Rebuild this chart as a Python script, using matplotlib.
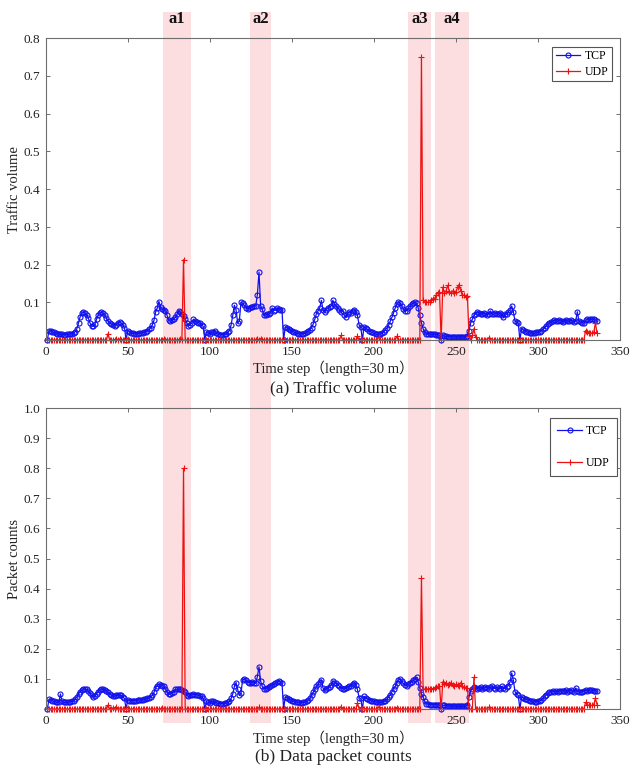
import numpy as np
import matplotlib
matplotlib.use("Agg")
import matplotlib.pyplot as plt
from matplotlib.patches import Rectangle
from matplotlib.transforms import blended_transform_factory

plt.rcParams['font.family'] = ['Liberation Serif', 'Noto Sans CJK SC']

# one week of 30 min time steps (1..336)
steps = np.arange(1, 337)

# (a) TCP traffic volume, one row per day
tcp_volume = [
    0, .025, .024, .022, .02, .018, .017, .016, .015, .015, .014, .014, .015, .015, .016, .016,
    .018, .022, .03, .045, .062, .072, .073, .071, .066, .058, .045, .037, .036, .042, .055, .067,
    .072, .073, .071, .066, .058, .05, .045, .042, .04, .038, .041, .045, .047, .045, .04, .033,
    0, .025, .022, .019, .018, .017, .017, .017, .018, .018, .019, .02, .022, .025, .028, .032,
    .04, .052, .075, .085, .102, .088, .082, .08, .078, .065, .052, .05, .052, .055, .06, .068,
    .077, .075, .07, .063, .055, .045, .038, .04, .045, .055, .05, .048, .046, .045, .04, .036,
    0, .022, .018, .016, .02, .022, .025, .018, .015, .014, .014, .014, .015, .016, .02, .025,
    .04, .065, .092, .08, .045, .05, .1, .098, .092, .086, .082, .085, .087, .088, .09, .09,
    .12, .18, .09, .082, .065, .067, .068, .068, .072, .085, .078, .08, .085, .083, .08, .08,
    0, .035, .032, .03, .027, .024, .022, .02, .018, .017, .016, .016, .017, .018, .02, .023,
    .027, .033, .042, .055, .07, .078, .085, .105, .08, .075, .08, .085, .088, .09, .105, .095,
    .09, .085, .08, .075, .078, .065, .06, .07, .075, .072, .078, .08, .075, .065, .04, .035,
    0, .035, .032, .028, .025, .022, .02, .018, .016, .015, .015, .016, .018, .022, .027, .032,
    .04, .05, .06, .072, .085, .095, .1, .098, .09, .082, .076, .078, .085, .09, .095, .098,
    .1, .098, .085, .065, .045, .03, .02, .017, .016, .016, .015, .015, .015, .014, .014, .013,
    0, .012, .01, .01, .009, .009, .009, .008, .008, .008, .008, .008, .008, .008, .008, .009,
    .01, .025, .045, .055, .065, .07, .075, .072, .068, .07, .072, .07, .065, .07, .077, .07,
    .068, .072, .07, .068, .072, .065, .06, .07, .068, .075, .08, .09, .075, .05, .048, .045,
    0, .03, .027, .025, .022, .02, .019, .018, .018, .018, .02, .02, .022, .025, .028, .032,
    .037, .042, .045, .048, .05, .052, .05, .05, .052, .05, .048, .05, .052, .05, .05, .052,
    .05, .048, .05, .075, .05, .048, .046, .045, .052, .055, .053, .055, .056, .055, .052, .05,
]

# (a) UDP traffic volume: steps that are not zero
udp_volume_steps = [38, 43, 45, 72, 82, 84, 129, 131, 180, 190, 203, 214, 229,
                    230, 231, 232, 233, 234, 235, 236, 237, 238, 239, 240,
                    242, 243, 244, 245, 246, 247, 248, 249, 250, 251, 252, 253, 254, 255, 256, 257,
                    258, 260, 261, 262, 270,
                    329, 330, 331, 332, 333, 334, 335, 336]
udp_volume_vals = [.017, .004, .003, .003, .003, .213, .004, .004, .012, .01, .008, .01, .75,
                   .105, .1, .1, .1, .1, .105, .11, .11, .12, .125, .127,
                   .14, .125, .13, .145, .128, .125, .13, .125, .127, .14, .146, .13, .12, .118, .115, .117,
                   .01, .012, .03, .008, .006,
                   .025, .02, .018, .018, .018, .02, .045, .018]

# (b) TCP packet counts, one row per day
tcp_packets = [
    0, .032, .03, .028, .025, .024, .022, .022, .05, .025, .022, .022, .022, .023, .024, .025,
    .028, .033, .04, .05, .058, .063, .066, .066, .065, .06, .052, .045, .04, .042, .05, .058,
    .064, .066, .066, .064, .06, .055, .05, .046, .043, .042, .045, .047, .046, .045, .04, .035,
    0, .03, .028, .027, .027, .028, .028, .029, .03, .03, .031, .032, .033, .035, .037, .04,
    .045, .055, .07, .078, .083, .08, .078, .075, .068, .055, .05, .05, .052, .055, .065, .066,
    .065, .066, .062, .06, .055, .045, .042, .045, .048, .05, .048, .047, .046, .044, .042, .035,
    0, .025, .022, .02, .025, .028, .022, .02, .019, .018, .018, .018, .019, .02, .022, .025,
    .035, .05, .075, .088, .065, .045, .052, .097, .099, .095, .09, .088, .088, .09, .088, .085,
    .108, .14, .092, .075, .068, .068, .07, .072, .078, .08, .082, .085, .09, .094, .09, .088,
    0, .04, .037, .034, .031, .028, .026, .024, .023, .022, .021, .021, .022, .023, .025, .03,
    .036, .045, .055, .065, .075, .082, .09, .097, .07, .063, .067, .07, .074, .08, .094, .088,
    .085, .08, .076, .07, .068, .066, .07, .074, .075, .078, .082, .088, .08, .065, .038, .035,
    0, .042, .038, .034, .031, .028, .026, .025, .024, .023, .022, .022, .023, .025, .028, .033,
    .04, .047, .058, .068, .075, .088, .097, .099, .092, .085, .08, .078, .082, .088, .091, .095,
    .1, .105, .09, .07, .05, .04, .025, .018, .016, .015, .015, .015, .015, .015, .014, .014,
    0, .013, .012, .011, .01, .01, .01, .009, .009, .009, .009, .009, .009, .009, .009, .01,
    .012, .04, .06, .068, .072, .07, .068, .07, .072, .068, .07, .074, .07, .068, .072, .075,
    .07, .068, .072, .07, .068, .075, .07, .068, .074, .078, .09, .12, .095, .058, .05, .045,
    0, .04, .037, .034, .032, .03, .028, .026, .025, .024, .024, .025, .027, .03, .035, .042,
    .048, .052, .056, .058, .06, .058, .06, .058, .06, .061, .059, .06, .062, .058, .06, .062,
    .06, .058, .07, .06, .056, .055, .058, .06, .062, .06, .062, .063, .062, .061, .06, .059,
]

# (b) UDP packet counts: steps that are not zero
udp_packet_steps = [38, 41, 43, 71, 84, 130, 180, 190, 203, 214, 229,
                    230, 231, 232, 233, 234, 235, 236, 237, 238, 239, 240,
                    242, 243, 244, 245, 246, 247, 248, 249, 250, 251, 252, 253, 254, 255, 256, 257,
                    261, 270,
                    329, 330, 331, 332, 333, 334, 335, 336]
udp_packet_vals = [.013, .004, .008, .005, .8, .006, .008, .02, .008, .005, .435,
                   .068, .066, .066, .067, .068, .066, .068, .07, .072, .075, .078,
                   .09, .082, .085, .08, .082, .088, .08, .078, .082, .08, .078, .088, .075, .072, .07, .07,
                   .105, .006,
                   .022, .015, .012, .012, .012, .015, .035, .015]

# highlighted anomaly windows (time step ranges)
band_labels = ['a1', 'a2', 'a3', 'a4']
band_ranges = [(71.2, 88.3), (124.8, 137.5), (221.0, 235.0), (237.0, 258.0)]

udp_volume = np.zeros(len(steps))
udp_volume[np.array(udp_volume_steps) - 1] = udp_volume_vals
udp_packets = np.zeros(len(steps))
udp_packets[np.array(udp_packet_steps) - 1] = udp_packet_vals

fig = plt.figure(figsize=(6.32, 7.67), dpi=100)
ax1 = fig.add_axes([0.0723, 0.5567, 0.9087, 0.3936])
ax2 = fig.add_axes([0.0723, 0.0756, 0.9087, 0.3924])

gray = '#6e6e6e'
txt = '#222222'


def draw_panel(ax, tcp, udp, ymax, yticks, ylabel, leg_anchor, leg_spacing, leg_pad):
    ax.set_facecolor('none')
    ax.plot(steps, tcp, '-o', color='#1010ee', lw=0.9, ms=3.6, mfc='none', mew=0.8,
            label='TCP', clip_on=False)
    ax.plot(steps, udp, '-+', color='#ee1111', lw=0.9, ms=4.5, mew=0.8,
            label='UDP', clip_on=False)
    ax.set_xlim(0, 350)
    ax.set_ylim(0, ymax)
    ax.set_xticks(np.arange(0, 351, 50))
    ax.set_yticks(yticks)
    ax.set_yticklabels(['%.1f' % v for v in yticks])
    ax.tick_params(direction='in', length=3, width=0.7, color=gray, labelsize=9.5,
                   labelcolor=txt, top=True, right=True, pad=4)
    for s in ax.spines.values():
        s.set_color(gray)
        s.set_linewidth(0.8)
    ax.set_ylabel(ylabel, fontsize=10.5, color=txt, labelpad=1.5)
    leg = ax.legend(loc='upper right', bbox_to_anchor=leg_anchor, borderaxespad=0,
                    fontsize=8.5, fancybox=False, framealpha=1, edgecolor='#555555',
                    handlelength=2.1, handletextpad=0.35, borderpad=leg_pad,
                    labelspacing=leg_spacing)
    leg.get_frame().set_linewidth(0.8)


draw_panel(ax1, tcp_volume, udp_volume, 0.8, np.arange(0.1, 0.81, 0.1),
           'Traffic volume', (0.9856, 0.971), 0.3, 0.3)
draw_panel(ax2, tcp_packets, udp_packets, 1.0, np.arange(0.1, 1.01, 0.1),
           'Packet counts', (0.9948, 0.968), 1.7, 0.6)

# pink bands run through both panels
trans = blended_transform_factory(ax1.transData, fig.transFigure)
for lab, (x0, x1) in zip(band_labels, band_ranges):
    r = Rectangle((x0, 0.0574), x1 - x0, 0.9844 - 0.0574, transform=trans,
                  facecolor='#fcdde0', edgecolor='none', zorder=-1)
    fig.add_artist(r)
    fig.text((x0 + x1) / 2, 0.975, lab, transform=trans, ha='center', va='center',
             fontsize=12, fontweight='bold', color='#111111')

fig.text(0.527, 0.520, 'Time step（length=30 m）', ha='center', va='center', fontsize=10.5, color=txt)
fig.text(0.527, 0.494, '(a) Traffic volume', ha='center', va='center', fontsize=12.5, color=txt)
fig.text(0.527, 0.0378, 'Time step（length=30 m）', ha='center', va='center', fontsize=10.5, color=txt)
fig.text(0.527, 0.013, '(b) Data packet counts', ha='center', va='center', fontsize=12.5, color=txt)

fig.savefig('out.png', dpi=100)
